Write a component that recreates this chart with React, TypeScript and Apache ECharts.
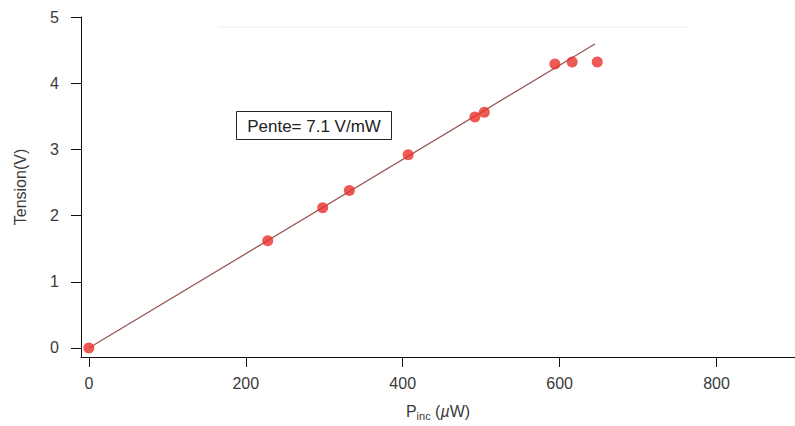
import React, { useEffect, useRef } from "react";
import * as echarts from "echarts";

const powerUW = [0, 228, 298, 332, 407, 492, 504, 594, 616, 648];
const tensionV = [0, 1.62, 2.12, 2.38, 2.92, 3.49, 3.56, 4.29, 4.32, 4.32];
const fitX = [0, 645];
const slopeVperUW = 0.00712;
const xTicks = [0, 200, 400, 600, 800];
const yTicks = [0, 1, 2, 3, 4, 5];
const annotation = "Pente= 7.1 V/mW";

export default function App() {
  const ref = useRef<HTMLDivElement>(null);
  useEffect(() => {
    if (!ref.current) return;
    const chart = echarts.init(ref.current, null, { renderer: "svg" });
    const font = "Arial, 'Liberation Sans', sans-serif";
    const labelColor = "#3a3a3a";
    chart.setOption({
      animation: false,
      backgroundColor: "#ffffff",
      grid: { left: 81, right: 0, top: 17, bottom: 69, containLabel: false },
      xAxis: {
        type: "value",
        min: -10,
        max: 900,
        axisLine: { show: true, onZero: false, lineStyle: { color: "#111", width: 1 } },
        axisTick: { show: true, customValues: xTicks, length: 10, lineStyle: { color: "#111" } },
        axisLabel: { customValues: xTicks, color: labelColor, fontSize: 16, fontFamily: font, margin: 18 },
        splitLine: { show: false },
        name: "{a|P}{b|inc}{a| (}{i|µ}{a|W)}",
        nameLocation: "middle",
        nameGap: 45,
        nameTextStyle: {
          rich: {
            a: { fontSize: 16, color: labelColor, fontFamily: font },
            b: { fontSize: 11, color: labelColor, fontFamily: font, padding: [8, 0, 0, 0] },
            i: { fontSize: 16, color: labelColor, fontFamily: font, fontStyle: "italic" },
          },
        },
      },
      yAxis: {
        type: "value",
        min: -0.136,
        max: 5,
        axisLine: { show: true, onZero: false, lineStyle: { color: "#111", width: 1 } },
        axisTick: { show: true, customValues: yTicks, length: 10, lineStyle: { color: "#111" } },
        axisLabel: { customValues: yTicks, color: labelColor, fontSize: 16, fontFamily: font, margin: 22 },
        splitLine: { show: false },
        name: "Tension(V)",
        nameLocation: "middle",
        nameGap: 53,
        nameTextStyle: { color: labelColor, fontSize: 16, fontFamily: font },
      },
      series: [
        {
          type: "line",
          data: fitX.map((x) => [x, x * slopeVperUW]),
          symbol: "none",
          lineStyle: { color: "#9a5652", width: 1.3 },
          z: 2,
        },
        {
          type: "scatter",
          data: powerUW.map((x, i) => [x, tensionV[i]]),
          symbol: "circle",
          symbolSize: 11,
          itemStyle: { color: "#e8302a" },
          z: 3,
        },
      ],
      graphic: [
        {
          type: "line",
          shape: { x1: 218, y1: 27, x2: 688, y2: 27 },
          style: { stroke: "#ececec", lineWidth: 1 },
        },
        {
          type: "rect",
          shape: { x: 236.5, y: 111.5, width: 155, height: 28 },
          style: { fill: "#fff", stroke: "#222", lineWidth: 1 },
          z: 10,
        },
        {
          type: "text",
          x: 314,
          y: 126,
          style: {
            text: annotation,
            fontSize: 17,
            fontFamily: font,
            fill: "#222",
            align: "center",
            verticalAlign: "middle",
          },
          z: 11,
        },
      ],
    });
    return () => chart.dispose();
  }, []);
  return <div ref={ref} style={{ position: "fixed", left: 0, top: 0, width: 795, height: 426 }} />;
}
